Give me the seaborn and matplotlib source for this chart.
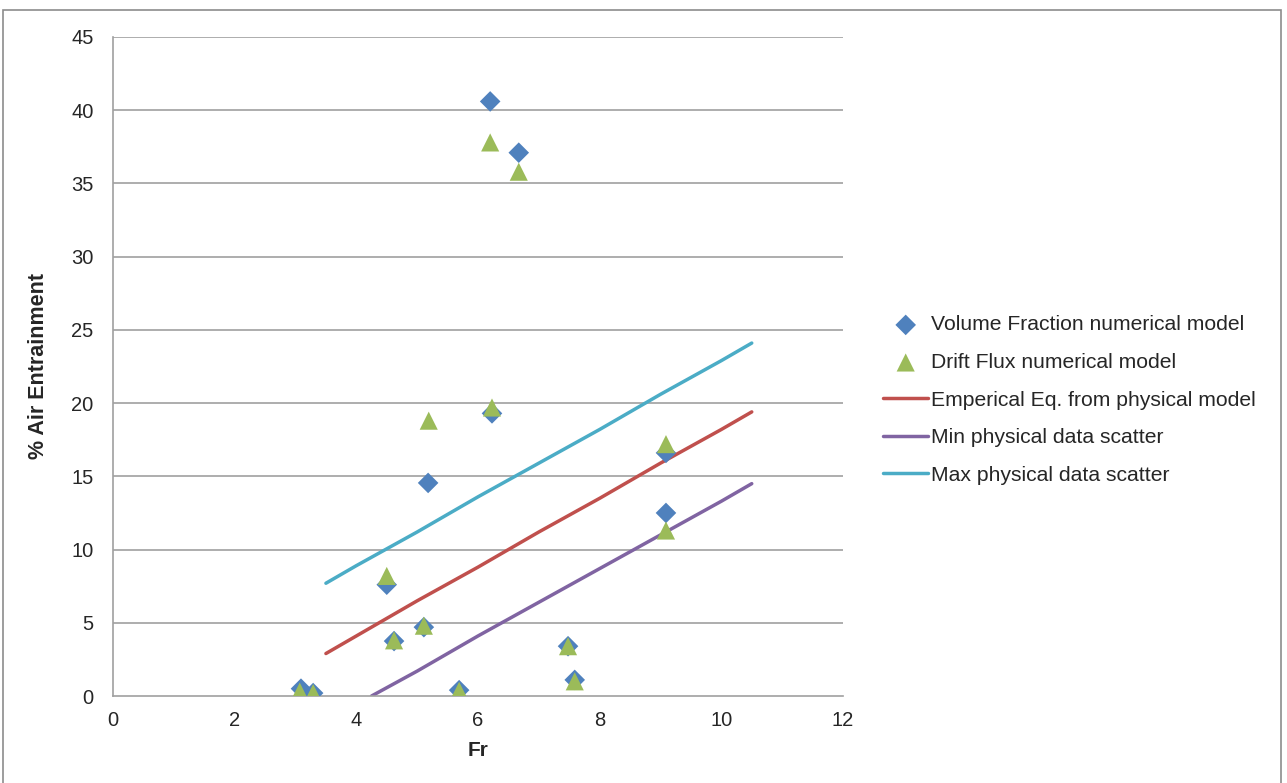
import numpy as np
import pandas as pd
import matplotlib
matplotlib.use('Agg')
import matplotlib.pyplot as plt
import matplotlib.patches as mpatches
import seaborn as sns

# ── Data ──────────────────────────────────────────────────────────────
vf_fr  = [3.09, 3.29, 4.50, 4.62, 5.11, 5.18, 5.69, 6.20, 6.23, 6.67, 7.48, 7.59, 9.09, 9.09]
vf_air = [0.5,  0.2,  7.6,  3.75, 4.7,  14.55, 0.4, 40.6, 19.3, 37.1, 3.4,  1.1,  16.6, 12.5]

df_fr  = [3.07, 3.29, 4.50, 4.62, 5.11, 5.19, 5.69, 6.20, 6.23, 6.67, 7.48, 7.59, 9.09, 9.09]
df_air = [0.3,  0.2,  8.2,  3.8,  4.8,  18.8, 0.35, 37.8, 19.7, 35.8, 3.4,  1.0,  17.2, 11.3]

emp_fr  = [3.5, 4, 5, 6, 7, 8, 9, 10, 10.5]
emp_air = [2.9, 4.1, 6.5, 8.8, 11.2, 13.5, 15.9, 18.2, 19.4]

min_fr  = [4.25, 5, 6, 7, 8, 9, 10, 10.5]
min_air = [0.0, 1.7, 4.1, 6.4, 8.7, 11.0, 13.3, 14.5]

max_fr  = [3.5, 4, 5, 6, 7, 8, 9, 10, 10.5]
max_air = [7.7, 8.9, 11.2, 13.6, 15.9, 18.2, 20.6, 22.9, 24.1]

# ── Style ─────────────────────────────────────────────────────────────
sns.set_theme(style='white')
plt.rcParams['font.family'] = ['Liberation Sans', 'DejaVu Sans']

C_BLUE   = '#4F81BD'
C_GREEN  = '#9BBB59'
C_RED    = '#C0504D'
C_PURPLE = '#8064A2'
C_CYAN   = '#4BACC6'
GRID     = '#a0a0a0'

fig = plt.figure(figsize=(12.87, 7.83), dpi=100)
ax = fig.add_axes([113 / 1287, 1 - 696 / 783, (843 - 113) / 1287, (696 - 37) / 783])

# outer chart frame
fig.patches.append(mpatches.Rectangle((3 / 1287, -0.05), (1281 - 3) / 1287, 1.05 - 10 / 783,
                                      transform=fig.transFigure, fill=False,
                                      edgecolor='#8c8c8c', linewidth=1.2))

for yv in range(5, 50, 5):
    ax.axhline(yv, color=GRID, linewidth=1.2, zorder=0)

sns.lineplot(x=emp_fr, y=emp_air, ax=ax, color=C_RED, linewidth=2.5,
             label='Emperical Eq. from physical model', zorder=2)
sns.lineplot(x=min_fr, y=min_air, ax=ax, color=C_PURPLE, linewidth=2.5,
             label='Min physical data scatter', zorder=2)
sns.lineplot(x=max_fr, y=max_air, ax=ax, color=C_CYAN, linewidth=2.5,
             label='Max physical data scatter', zorder=2)

sns.scatterplot(x=vf_fr, y=vf_air, ax=ax, marker='D', s=110, color=C_BLUE,
                edgecolor='none', label='Volume Fraction numerical model', zorder=3)
sns.scatterplot(x=df_fr, y=df_air, ax=ax, marker='^', s=170, color=C_GREEN,
                edgecolor='none', label='Drift Flux numerical model', zorder=4)

ax.set_xlim(0, 12)
ax.set_ylim(0, 45)
ax.set_xticks(range(0, 13, 2))
ax.set_yticks(range(0, 46, 5))
ax.tick_params(axis='both', labelsize=14.5, colors='#262626', length=0)
ax.tick_params(axis='y', pad=14)
ax.tick_params(axis='x', pad=11)

for s in ['top', 'right']:
    ax.spines[s].set_visible(False)
for s in ['left', 'bottom']:
    ax.spines[s].set_color(GRID)
    ax.spines[s].set_linewidth(1.2)

ax.set_xlabel('Fr', fontsize=15, fontweight='bold', labelpad=8)
ax.set_ylabel('% Air Entrainment', fontsize=15.5, fontweight='bold', labelpad=16)

handles, labels = ax.get_legend_handles_labels()
order = [3, 4, 0, 1, 2]
ax.legend([handles[i] for i in order], [labels[i] for i in order],
          loc='center left', bbox_to_anchor=(1.0548, 0.449), frameon=False,
          borderpad=0, borderaxespad=0,
          fontsize=15.2, handlelength=2.15, handletextpad=0.1, labelspacing=0.88)

fig.savefig('out.png', dpi=100)
